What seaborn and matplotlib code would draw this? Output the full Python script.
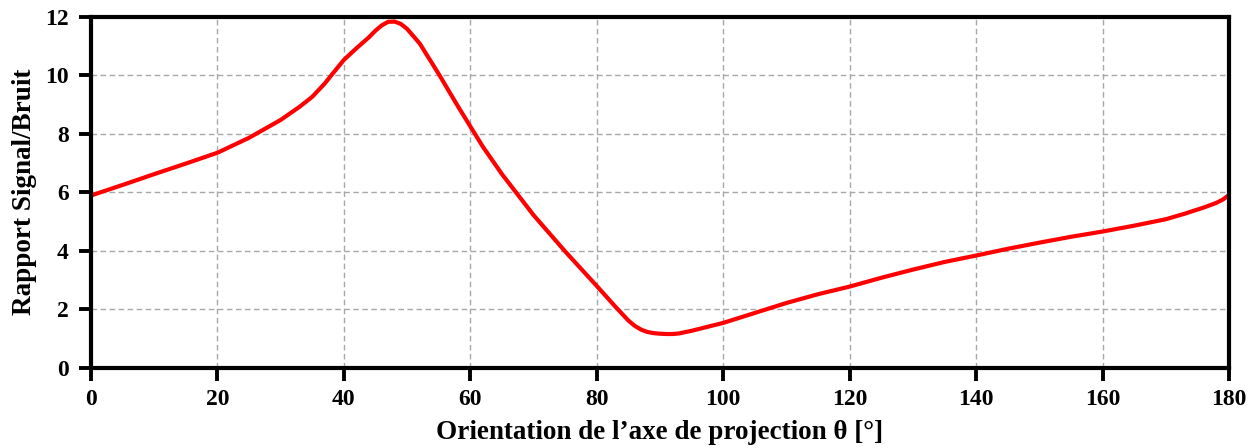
import matplotlib
matplotlib.use("Agg")
import matplotlib.pyplot as plt
import seaborn as sns
import pandas as pd

# Signal-to-noise ratio versus projection-axis orientation
theta = [0, 5, 10, 15, 20, 25, 30, 33, 35, 37, 38, 40, 42, 44, 45, 46, 47, 48,
         49, 50, 52, 55, 58, 60, 62, 65, 70, 75, 80, 83, 85, 86, 87, 88, 89, 90,
         91, 92, 93, 95, 100, 105, 110, 115, 120, 125, 130, 135, 140, 145, 150,
         155, 160, 165, 170, 173, 176, 178, 179, 180]
snr = [5.89, 6.25, 6.62, 6.98, 7.35, 7.86, 8.47, 8.92, 9.26, 9.72, 9.99, 10.52,
       10.92, 11.30, 11.52, 11.70, 11.82, 11.83, 11.75, 11.58, 11.08, 10.04,
       8.95, 8.25, 7.55, 6.62, 5.22, 3.98, 2.80, 2.08, 1.62, 1.44, 1.31, 1.23,
       1.19, 1.17, 1.16, 1.16, 1.18, 1.27, 1.54, 1.88, 2.22, 2.52, 2.78, 3.08,
       3.36, 3.62, 3.84, 4.07, 4.28, 4.48, 4.66, 4.86, 5.08, 5.27, 5.48, 5.64,
       5.75, 5.91]

xticks = [0, 20, 40, 60, 80, 100, 120, 140, 160, 180]
yticks = [0, 2, 4, 6, 8, 10, 12]

df = pd.DataFrame({"theta": theta, "snr": snr})

sns.set_theme(style="white")
plt.rcParams["font.family"] = ["Liberation Serif", "DejaVu Serif"]
plt.rcParams["font.weight"] = "bold"
plt.rcParams["text.color"] = "black"
plt.rcParams["axes.labelcolor"] = "black"
plt.rcParams["xtick.color"] = "black"
plt.rcParams["ytick.color"] = "black"

fig = plt.figure(figsize=(12.58, 4.48), dpi=100)
ax = fig.add_axes([0.0723, 0.1786, 0.9047, 0.7844])

sns.lineplot(data=df, x="theta", y="snr", ax=ax, color="#ff0000",
             linewidth=3.0, solid_capstyle="round", solid_joinstyle="round")

ax.set_xlim(0, 180)
ax.set_ylim(0, 12)
ax.set_xticks(xticks)
ax.set_yticks(yticks)
ax.grid(True, color="#a8a8a8", linestyle=(0, (4, 2.5)), linewidth=1.0)
ax.set_axisbelow(True)

for s in ax.spines.values():
    s.set_linewidth(3.0)
    s.set_color("black")

ax.tick_params(axis="both", which="major", direction="out", length=9, width=2.8,
               color="black", labelcolor="black", labelsize=17,
               bottom=True, left=True)
ax.tick_params(axis="x", pad=6)
ax.tick_params(axis="y", pad=7)
for lbl in ax.get_xticklabels() + ax.get_yticklabels():
    lbl.set_fontweight("bold")

ax.set_xlabel("Orientation de l\u2019axe de projection \u03b8 [\u00b0]",
              fontsize=19.5, fontweight="bold", labelpad=7, color="black")
ax.set_ylabel("Rapport Signal/Bruit", fontsize=19.5, fontweight="bold",
              labelpad=6, color="black")

fig.savefig("out.png", dpi=100, facecolor="white")
